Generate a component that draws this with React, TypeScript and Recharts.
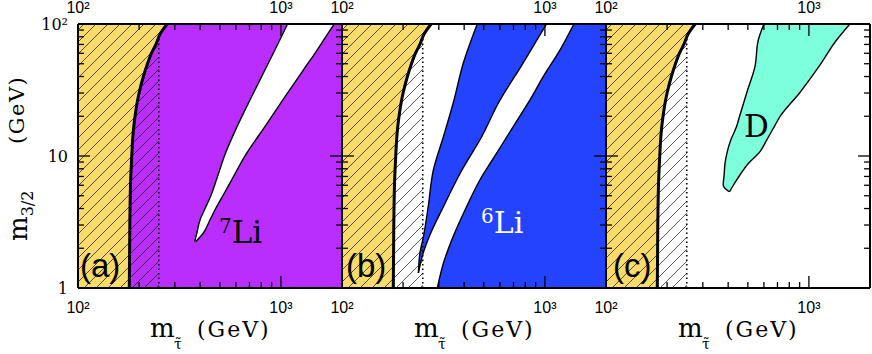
import React from 'react';
import { ComposedChart, Area, Line, XAxis, YAxis } from 'recharts';

/**
 * Three-panel stau / gravitino plane (7Li, 6Li, D constraints), log-log.
 * Vertical layout so every boundary is m_stau as a function of m_3/2.
 */

type Pt3 = [number, number, number];

const X_DOMAIN: [number, number] = [100, 2000];
const Y_DOMAIN: [number, number] = [1, 100];
const X_MAJOR = [100, 1000, 2000];
const X_MINOR = [200, 300, 400, 500, 600, 700, 800, 900];
const Y_MAJOR = [1, 10, 100];
const Y_MINOR = [2, 3, 4, 5, 6, 7, 8, 9, 20, 30, 40, 50, 60, 70, 80, 90];
const X_LABELS: Record<number, string> = { 100: '10²', 1000: '10³' };
const Y_LABELS: Record<number, string> = { 1: '1', 10: '10', 100: '10²' };

// thick boundary of the yellow region (same in every panel)
const EDGE_M32 = [1, 3, 7, 10, 15, 20, 30, 40, 50, 60, 70, 85, 100];
const EDGE_MSTAU = [179, 180, 182, 184, 187, 191, 200, 210, 220, 230, 242, 255, 275];

// dotted line
const DOT_M32 = [1, 78];
const DOT_MSTAU = [250, 250];

// right edge of the hatched band
const HATCH_M32 = [1, 78, 85, 100];
const HATCH_MSTAU = [250, 250, 255, 275];

// (a) allowed white sliver inside the 7Li region: [m3/2, left, right]
const LI7_GAP: Pt3[] = [
  [2.24, 376, 380], [2.6, 385, 414], [3.3, 400, 448], [4, 423, 477],
  [5.2, 456, 525], [6.6, 481, 572], [10.5, 533, 678], [16.7, 608, 834],
  [28, 716, 1046], [45, 835, 1292], [60, 917, 1471], [80, 1005, 1663],
  [100, 1079, 1830],
];

// (b) 6Li excluded strip: [m3/2, left, right]
const LI6_STRIP: Pt3[] = [
  [1.3, 238, 238], [1.83, 242, 251], [2.45, 252, 269], [4.13, 266, 316],
  [7.83, 282, 390], [14, 316, 488], [25.1, 353, 589], [50.4, 396, 779],
  [100, 464, 1019],
];
// (b) 6Li main excluded region, left edge (runs to the right border)
const LI6_MAIN_M32 = [1, 1.54, 2.45, 4.13, 6.58, 10.5, 16.7, 26.6, 39.9, 63.5, 100];
const LI6_MAIN_LEFT = [295, 316, 353, 411, 478, 578, 698, 844, 981, 1186, 1390];

// (c) D excluded region: [m3/2, left, right]
const D_REGION: Pt3[] = [
  [5.36, 404, 406], [6.03, 378, 425], [7.18, 382, 457], [8.8, 386, 504],
  [10.8, 396, 574], [13.2, 412, 619], [16.7, 440, 675], [19.9, 455, 720],
  [29.9, 493, 897], [47.5, 542, 1119], [75.6, 563, 1369], [100, 600, 1592],
];

const YELLOW = '#F8DB6B';
const PURPLE = '#BA2EFD';
const BLUE = '#2343FF';
const AQUA = '#7DFFDC';
const SERIF = '"DejaVu Serif", serif';
const SANS = '"Liberation Sans", Arial, sans-serif';

// tick lengths as log-axis factors (~6px minor, ~12px major)
const TICK_X_MINOR = 1.07;
const TICK_X_MAJOR = 1.146;
const TICK_Y_MINOR = 1.11;
const TICK_Y_MAJOR = 1.233;

const band = (pts: Pt3[]) => pts.map(([y, lo, hi]) => ({ y, v: [lo, hi] }));
const fullData = [{ y: 1, v: [100, 2000] }, { y: 100, v: [100, 2000] }];
const yellowData = EDGE_M32.map((y, i) => ({ y, v: [100, EDGE_MSTAU[i]] }));
const edgeData = EDGE_M32.map((y, i) => ({ y, x: EDGE_MSTAU[i] }));
const dotData = DOT_M32.map((y, i) => ({ y, x: DOT_MSTAU[i] }));
const hatchData = HATCH_M32.map((y, i) => ({ y, v: [100, HATCH_MSTAU[i]] }));
const li6MainData = LI6_MAIN_M32.map((y, i) => ({ y, v: [LI6_MAIN_LEFT[i], 2000] }));

// inward tick marks on all four sides, one short segment each
type Seg = { y: number; x: number }[];
const tickSegs: Seg[] = [];
const seg = (y1: number, x1: number, y2: number, x2: number) => {
  tickSegs.push([{ y: y1, x: x1 }, { y: y2, x: x2 }]);
};
const [yLo, yHi] = Y_DOMAIN;
const [xLo, xHi] = X_DOMAIN;
X_MINOR.forEach((t) => { seg(yLo, t, yLo * TICK_Y_MINOR, t); seg(yHi / TICK_Y_MINOR, t, yHi, t); });
X_MAJOR.filter((t) => t > xLo && t < xHi).forEach((t) => {
  seg(yLo, t, yLo * TICK_Y_MAJOR, t); seg(yHi / TICK_Y_MAJOR, t, yHi, t);
});
Y_MINOR.forEach((t) => { seg(t, xLo, t, xLo * TICK_X_MINOR); seg(t, xHi / TICK_X_MINOR, t, xHi); });
Y_MAJOR.filter((t) => t > yLo && t < yHi).forEach((t) => {
  seg(t, xLo, t, xLo * TICK_X_MAJOR); seg(t, xHi / TICK_X_MAJOR, t, xHi);
});

const W = 872;
const H = 354;
const PLOT_W = 264;
const PLOT_TOP = 24;
const PLOT_BOTTOM = 288;

const emptyTick = () => <g />;

function xLabel(side: 'top' | 'bottom') {
  return (props: any) => {
    const label = X_LABELS[props.payload.value];
    if (!label) return <g />;
    return (
      <text x={props.x} y={side === 'bottom' ? PLOT_BOTTOM + 25 : PLOT_TOP - 11} textAnchor="middle"
        fontFamily={SANS} fontSize={16} fill="#000">{label}</text>
    );
  };
}

function yLabel(left: number, show: boolean) {
  return (props: any) => {
    const label = show ? Y_LABELS[props.payload.value] : undefined;
    if (!label) return <g />;
    return (
      <text x={left - 10} y={props.y + 6} textAnchor="end" fontFamily={SERIF} fontSize={16} fill="#000">{label}</text>
    );
  };
}

// chart with hidden log axes over one panel's plot area
function Layer({ left, children }: { left: number; children?: React.ReactNode }) {
  return (
    <div style={{ position: 'absolute', left: 0, top: 0 }}>
      <ComposedChart
        layout="vertical"
        width={W}
        height={H}
        margin={{ top: PLOT_TOP, bottom: H - PLOT_BOTTOM, left, right: W - left - PLOT_W }}
      >
        <XAxis hide type="number" scale="log" domain={X_DOMAIN} allowDataOverflow />
        <YAxis hide dataKey="y" type="number" scale="log" domain={Y_DOMAIN} allowDataOverflow reversed />
        {children}
      </ComposedChart>
    </div>
  );
}

interface PanelProps {
  left: number;
  hatchId: string;
  children?: React.ReactNode;
}

// filled regions, hatch, thick boundary, dotted line
function Panel({ left, hatchId, children }: PanelProps) {
  return (
    <Layer left={left}>
      <defs>
        <pattern id={hatchId} patternUnits="userSpaceOnUse" width={12} height={12}>
          <path d="M-3,3 L3,-3 M0,12 L12,0 M9,15 L15,9" stroke="#111" strokeWidth={0.7} />
        </pattern>
      </defs>
      {children}
      <Area data={yellowData} dataKey="v" type="monotone" fill={YELLOW} fillOpacity={1}
        stroke="none" dot={false} activeDot={false} isAnimationActive={false} />
      <Area data={hatchData} dataKey="v" type="linear" fill={`url(#${hatchId})`} fillOpacity={1}
        stroke="none" dot={false} activeDot={false} isAnimationActive={false} />
      <Line data={edgeData} dataKey="x" type="monotone" stroke="#000" strokeWidth={3}
        dot={false} activeDot={false} isAnimationActive={false} />
      <Line data={dotData} dataKey="x" type="linear" stroke="#000" strokeWidth={1.6}
        strokeDasharray="1.5 3" dot={false} activeDot={false} isAnimationActive={false} />
    </Layer>
  );
}

// inward tick marks, each a two-point line through the hidden log axes
function Ticks({ left }: { left: number }) {
  return (
    <Layer left={left}>
      {tickSegs.map((s, i) => (
        <Line key={i} data={s} dataKey="x" type="linear" stroke="#000" strokeWidth={1.3}
          dot={false} activeDot={false} isAnimationActive={false} />
      ))}
    </Layer>
  );
}

// frame and tick labels
function Frame({ left, yLabels = false }: { left: number; yLabels?: boolean }) {
  const frame = { stroke: '#000', strokeWidth: 2 };
  const common = {
    type: 'number' as const, scale: 'log' as const, allowDataOverflow: true,
    interval: 0, tickMargin: 0, tickSize: 0, tickLine: false, axisLine: frame,
  };
  return (
    <div style={{ position: 'absolute', left: 0, top: 0 }}>
      <ComposedChart
        layout="vertical"
        width={W}
        height={H}
        data={fullData}
        margin={{ top: PLOT_TOP - 1, bottom: H - PLOT_BOTTOM - 1, left: left - 1, right: W - left - PLOT_W - 1 }}
      >
        <XAxis orientation="bottom" {...common} domain={X_DOMAIN} ticks={X_MAJOR}
          height={1} tick={xLabel('bottom')} />
        <XAxis xAxisId="top" orientation="top" {...common} domain={X_DOMAIN} ticks={X_MAJOR}
          height={1} tick={xLabel('top')} />
        <YAxis orientation="left" dataKey="y" {...common} domain={Y_DOMAIN} reversed
          ticks={Y_MAJOR} width={1} tick={yLabel(left, yLabels)} />
        <YAxis yAxisId="right" orientation="right" dataKey="y" {...common} domain={Y_DOMAIN}
          reversed ticks={Y_MAJOR} width={1} tick={emptyTick} />
      </ComposedChart>
    </div>
  );
}

const PANEL_LEFTS = [78, 342, 606];

function XTitle({ x0 }: { x0: number }) {
  return (
    <g fill="#000" fontFamily={SERIF}>
      <text x={x0 + 72} y={337} fontSize={26}>m</text>
      <text x={x0 + 96} y={349} fontSize={14}>τ̃</text>
      <text x={x0 + 119} y={337} fontSize={22} letterSpacing={2}>(GeV)</text>
    </g>
  );
}

export default function App() {
  return (
    <div style={{ position: 'absolute', left: 0, top: 0, width: W, height: H, background: '#fff' }}>
      <Panel left={PANEL_LEFTS[0]} hatchId="hatch-a">
        <Area data={fullData} dataKey="v" type="linear" fill={PURPLE} fillOpacity={1}
          stroke="none" dot={false} activeDot={false} isAnimationActive={false} />
        <Area data={band(LI7_GAP)} dataKey="v" type="monotone" fill="#fff" fillOpacity={1}
          stroke="#000" strokeWidth={1.4} dot={false} activeDot={false} isAnimationActive={false} />
      </Panel>
      <Panel left={PANEL_LEFTS[1]} hatchId="hatch-b">
        <Area data={li6MainData} dataKey="v" type="monotone" fill={BLUE} fillOpacity={1}
          stroke="#000" strokeWidth={1.4} dot={false} activeDot={false} isAnimationActive={false} />
        <Area data={band(LI6_STRIP)} dataKey="v" type="monotone" fill={BLUE} fillOpacity={1}
          stroke="#000" strokeWidth={1.4} dot={false} activeDot={false} isAnimationActive={false} />
      </Panel>
      <Panel left={PANEL_LEFTS[2]} hatchId="hatch-c">
        <Area data={band(D_REGION)} dataKey="v" type="monotone" fill={AQUA} fillOpacity={1}
          stroke="#000" strokeWidth={1.4} dot={false} activeDot={false} isAnimationActive={false} />
      </Panel>
      {PANEL_LEFTS.map((x0) => <Ticks key={`t${x0}`} left={x0} />)}
      <Frame left={PANEL_LEFTS[0]} yLabels />
      <Frame left={PANEL_LEFTS[1]} />
      <Frame left={PANEL_LEFTS[2]} />
      <svg width={W} height={H} style={{ position: 'absolute', left: 0, top: 0, pointerEvents: 'none' }}>
        {/* panel labels */}
        <text x={80} y={277} fontFamily={SANS} fontSize={33}>(a)</text>
        <text x={346} y={277} fontFamily={SANS} fontSize={33}>(b)</text>
        <text x={613} y={277} fontFamily={SANS} fontSize={33}>(c)</text>
        <text x={219} y={243} fontFamily={SERIF} fontSize={31} fill="#000">
          <tspan fontSize={20} dy={-10}>7</tspan>
          <tspan dy={10}>Li</tspan>
        </text>
        <text x={481} y={233} fontFamily={SERIF} fontSize={30} fill="#fff">
          <tspan fontSize={20} dy={-10}>6</tspan>
          <tspan dy={10}>Li</tspan>
        </text>
        <text x={744} y={137} fontFamily={SERIF} fontSize={31} fill="#000">D</text>
        {/* axis titles */}
        {PANEL_LEFTS.map((x0) => <XTitle key={x0} x0={x0} />)}
        <g fontFamily={SERIF} fill="#000">
          <text transform="translate(27,241) rotate(-90)" fontSize={26}>
            m<tspan fontSize={16} dy={6}>3/2</tspan>
          </text>
          <text transform="translate(24,144) rotate(-90)" fontSize={21} letterSpacing={1.5}>(GeV)</text>
        </g>
      </svg>
    </div>
  );
}
